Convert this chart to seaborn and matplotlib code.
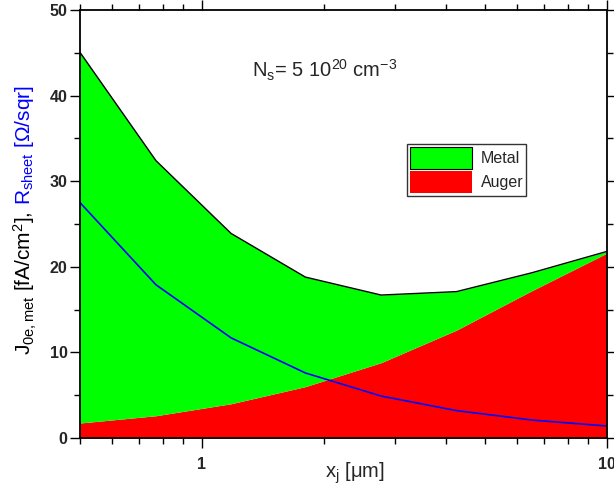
import matplotlib
matplotlib.use("Agg")
import matplotlib.pyplot as plt
import seaborn as sns
import numpy as np
import pandas as pd
from matplotlib.patches import Patch

# Data
xj = [0.5, 0.77, 1.18, 1.8, 2.77, 4.25, 6.52, 10.0]
auger = [1.75, 2.6, 4.0, 6.0, 8.8, 12.6, 17.2, 21.6]
metal = [43.3, 29.8, 19.9, 12.8, 7.9, 4.5, 2.1, 0.2]
rsheet = [27.5, 17.9, 11.7, 7.6, 4.9, 3.2, 2.1, 1.4]

sns.set_theme(style="white")
plt.rcParams['font.family'] = ['Liberation Sans', 'DejaVu Sans']
plt.rcParams['mathtext.fontset'] = 'custom'
plt.rcParams['mathtext.rm'] = 'Liberation Sans'
plt.rcParams['mathtext.it'] = 'Liberation Sans'
plt.rcParams['mathtext.default'] = 'regular'

df = pd.DataFrame({"xj": xj, "auger": auger, "metal": metal, "rsheet": rsheet})
df["total"] = df["auger"] + df["metal"]

W, H = 614, 490
fig = plt.figure(figsize=(W/100, H/100), dpi=100)
ax = fig.add_axes([80/W, 1-438/H, (607-80)/W, (438-10)/H])

ax.fill_between(df["xj"], 0, df["auger"], color="#ff0000", linewidth=0, label="Auger", zorder=1)
ax.fill_between(df["xj"], df["auger"], df["total"], color="#00ff00", linewidth=0, label="Metal", zorder=1)
sns.lineplot(data=df, x="xj", y="total", color="black", linewidth=1.0, ax=ax, zorder=3, legend=False)
sns.lineplot(data=df, x="xj", y="rsheet", color="#0000ff", linewidth=1.2, ax=ax, zorder=4, legend=False)

ax.set_xscale("log")
ax.set_xlim(0.5, 10)
ax.set_ylim(0, 50)
ax.set_xticks([1, 10])
ax.set_xticklabels(["1", "10"])
ax.xaxis.set_minor_locator(matplotlib.ticker.LogLocator(base=10, subs=np.arange(2, 10)))
ax.xaxis.set_minor_formatter(matplotlib.ticker.NullFormatter())
ax.set_yticks([0, 10, 20, 30, 40, 50])
ax.yaxis.set_minor_locator(matplotlib.ticker.MultipleLocator(5))

ax.tick_params(which="both", direction="out", top=True, right=True, bottom=True, left=True,
               color="black", width=1.0)
ax.tick_params(which="major", length=7, labelsize=11.5)
ax.tick_params(axis="y", which="major", pad=2)
ax.tick_params(axis="x", which="major", pad=7)
ax.tick_params(which="minor", length=4)
for lab in ax.get_xticklabels() + ax.get_yticklabels():
    lab.set_fontweight("bold")
for s in ax.spines.values():
    s.set_color("black")
    s.set_linewidth(1.3)
    s.set_zorder(5)

ax.set_xlabel(r"x$_j$ [μm]", fontsize=14.5)
ax.xaxis.set_label_coords((355-80)/527, -(460-438)/428)
ax.set_ylabel("")

# two-coloured y label, pieces placed end to end
t1 = fig.text(25/W, 1-355/H, r"J$_{0e,met}$ [fA/cm$^2$],", rotation=90, fontsize=15,
              color="black", ha="center", va="bottom")
fig.canvas.draw()
bb = t1.get_window_extent()
fig.text(25/W, (bb.y1 + 6)/H, r"R$_{sheet}$ [Ω/sqr]", rotation=90, fontsize=15,
         color="#0000ff", ha="center", va="bottom")

ax.text((325-80)/527, 1-(70-10)/428, r"N$_s$= 5 10$^{20}$ cm$^{-3}$", transform=ax.transAxes,
        fontsize=14.5, ha="center", va="center")

h_metal = Patch(facecolor="#00ff00", edgecolor="black", linewidth=0.8)
h_auger = Patch(facecolor="#ff0000", edgecolor="none")
leg = ax.legend([h_metal, h_auger], ["Metal", "Auger"], loc="upper left",
                bbox_to_anchor=((407-80)/527, 1-(144-10)/428), fontsize=11.5,
                frameon=True, fancybox=False, edgecolor="black", handlelength=3.9,
                handleheight=1.7, borderpad=0.2, labelspacing=0.15, handletextpad=0.5,
                borderaxespad=0)
leg.get_frame().set_linewidth(1.0)

fig.savefig("out.png", dpi=100)
